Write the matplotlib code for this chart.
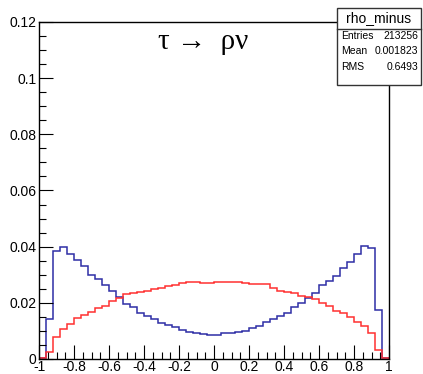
import numpy as np
import matplotlib
matplotlib.use("Agg")
import matplotlib.pyplot as plt
from matplotlib.ticker import MultipleLocator, FuncFormatter

plt.rcParams['axes.unicode_minus'] = False
plt.rcParams['font.family'] = ['Liberation Sans', 'DejaVu Sans']

# 50 bins from -1 to 1
edges = np.linspace(-1, 1, 51)

rho_minus = [0.0002, 0.0141, 0.0384, 0.0398, 0.0374, 0.0352, 0.0332, 0.0300, 0.0284, 0.0262,
             0.0241, 0.0222, 0.0197, 0.0186, 0.0165, 0.0153, 0.0141, 0.0129, 0.0121, 0.0113,
             0.0103, 0.0096, 0.0091, 0.0089, 0.0087, 0.0087, 0.0091, 0.0091, 0.0096, 0.0101,
             0.0110, 0.0118, 0.0133, 0.0141, 0.0153, 0.0163, 0.0186, 0.0198, 0.0216, 0.0236,
             0.0263, 0.0279, 0.0295, 0.0323, 0.0347, 0.0374, 0.0403, 0.0394, 0.0173, 0.0004]

rho_plus = [0.0004, 0.0026, 0.0080, 0.0106, 0.0126, 0.0145, 0.0157, 0.0168, 0.0180, 0.0187,
            0.0206, 0.0216, 0.0230, 0.0236, 0.0237, 0.0243, 0.0248, 0.0252, 0.0260, 0.0265,
            0.0269, 0.0273, 0.0274, 0.0269, 0.0271, 0.0274, 0.0274, 0.0274, 0.0274, 0.0269,
            0.0267, 0.0266, 0.0266, 0.0252, 0.0243, 0.0240, 0.0234, 0.0224, 0.0220, 0.0212,
            0.0200, 0.0189, 0.0172, 0.0163, 0.0148, 0.0133, 0.0119, 0.0091, 0.0033, 0.0004]

stats_labels = ["Entries", "Mean", "RMS"]
stats_values = ["213256", "0.001823", "0.6493"]

W, H = 423, 374
fig = plt.figure(figsize=(W/100, H/100), dpi=100)
ax = fig.add_axes([39/W, 15/H, 350/W, 337/H])

ax.stairs(rho_minus, edges, color='#2e2ea6', lw=1.1)
ax.stairs(rho_plus, edges, color='#ff3030', lw=1.1)

ax.set_xlim(-1, 1)
ax.set_ylim(0, 0.12)

ax.xaxis.set_major_locator(MultipleLocator(0.2))
ax.xaxis.set_minor_locator(MultipleLocator(0.05))
ax.yaxis.set_major_locator(MultipleLocator(0.02))
ax.yaxis.set_minor_locator(MultipleLocator(0.005))

def fmt(v, pos):
    s = "%.2f" % v
    s = s.rstrip('0').rstrip('.')
    if s == "-0":
        s = "0"
    return s

ax.xaxis.set_major_formatter(FuncFormatter(fmt))
ax.yaxis.set_major_formatter(FuncFormatter(fmt))

ax.tick_params(which='both', direction='in', top=False, right=False, labelsize=10, width=0.8)
ax.tick_params(which='major', length=10)
ax.tick_params(which='minor', length=5)
ax.tick_params(axis='x', pad=0.5)
ax.tick_params(axis='y', pad=2)
for sp in ax.spines.values():
    sp.set_linewidth(1)

fig.text(203/W, 1 - 42/H, u"\u03c4 \u2192  \u03c1\u03bd", family=['Liberation Serif', 'DejaVu Serif'],
         fontsize=21, ha='center', va='center')

# stats box
bx0, bx1, by0, by1, bsep = 337, 421, 8.5, 85, 28.5
box = plt.Rectangle((bx0/W, 1 - by1/H), (bx1-bx0)/W, (by1-by0)/H, transform=fig.transFigure,
                    facecolor='white', edgecolor='#333333', lw=1, zorder=5)
fig.patches.append(box)
fig.add_artist(plt.Line2D([bx0/W, bx1/W], [1 - bsep/H, 1 - bsep/H], transform=fig.transFigure,
                          color='#333333', lw=1, zorder=6))
fig.text((bx0+bx1)/2/W, 1 - (by0+bsep)/2/H, "rho_minus", fontsize=10, ha='center', va='center', zorder=7)
for i in range(3):
    yy = 1 - (bsep + 7.5 + 15.5*i)/H
    fig.text((bx0+4)/W, yy, stats_labels[i], fontsize=7.5, ha='left', va='center', zorder=7)
    fig.text((bx1-3)/W, yy, stats_values[i], fontsize=7.5, ha='right', va='center', zorder=7)

fig.savefig("out.png", dpi=100)
